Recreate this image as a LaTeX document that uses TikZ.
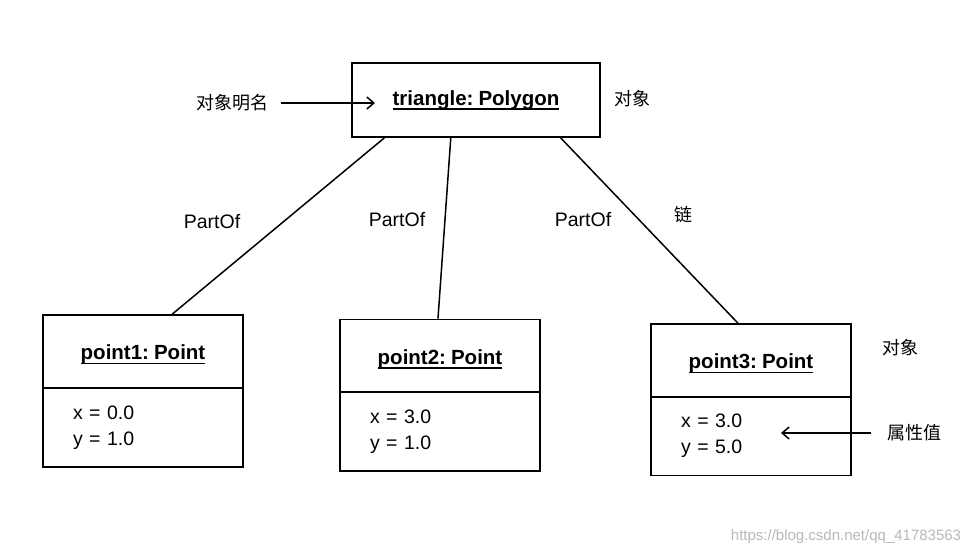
\documentclass[tikz,border=0pt]{standalone}
\usepackage{fontspec}
\setmainfont{Liberation Sans}[WordSpace=0.55]
\newfontfamily\cjk{Noto Sans CJK SC}
\usetikzlibrary{arrows.meta, calc}

\newcommand{\ulname}[1]{\setbox0\hbox{#1}\rlap{\rule[-4.5pt]{\wd0}{1.4pt}}\box0}

\begin{document}
\begin{tikzpicture}[
  x=1pt, y=-1pt,
  every node/.style={font=\fontsize{19.5}{26}\selectfont},
  objbox/.style={rectangle, draw, line width=1.8pt, minimum width=200pt, minimum height=73pt, font=\fontsize{20.5}{24}\selectfont\bfseries},
  attrbox/.style={rectangle, draw, line width=1.8pt, minimum width=200pt, minimum height=79pt, text width=140pt, inner xsep=30pt, align=left},
  note/.style={font=\cjk\fontsize{18}{20}\selectfont},
  link/.style={line width=1.5pt},
  pointer/.style={line width=1.5pt, -{Straight Barb[length=7pt, width=12pt]}},
]
\useasboundingbox (0,0) rectangle (977,556);

% Polygon object
\node[objbox, minimum width=248pt, minimum height=74pt] (tri) at (476,100) {\ulname{triangle: Polygon}};

% Point objects
\node[objbox, text height=21pt, text depth=4.5pt] (p1) at (143,351.5) {\ulname{point1: Point}};
\node[attrbox] (p1attr) at (143,427.5) {x = 0.0\\y = 1.0};

\node[objbox, text height=21pt, text depth=4.5pt] (p2) at (440,356) {\ulname{point2: Point}};
\node[attrbox] (p2attr) at (440,431.5) {x = 3.0\\y = 1.0};

\node[objbox, text height=21pt, text depth=4.5pt] (p3) at (751,360.5) {\ulname{point3: Point}};
\node[attrbox] (p3attr) at (751,436) {x = 3.0\\y = 5.0};

% Links
\draw[link] ($(tri.south west)!0.133!(tri.south east)$) -- ($(p1.north west)!0.645!(p1.north east)$);
\draw[link] ($(tri.south west)!0.399!(tri.south east)$) -- ($(p2.north west)!0.49!(p2.north east)$);
\draw[link] ($(tri.south west)!0.839!(tri.south east)$) -- ($(p3.north west)!0.435!(p3.north east)$);

\node (lbl1) at (212,222) {PartOf};
\node (lbl2) at (397,220) {PartOf};
\node (lbl3) at (583,220) {PartOf};

% Annotations
\node[note] (objname) at (232,103) {对象明名};
\coordinate (nametip) at (375,103);
\draw[pointer, shorten <=9pt] (objname.east) -- (nametip);

\node[note] (obj1) at (632,99) {对象};
\node[note] (chain) at (683,215) {链};
\node[note] (obj2) at (900,348) {对象};

\node[note] (attrval) at (914,433) {属性值};
\coordinate (attrtip) at (781,433);
\draw[pointer, shorten <=12pt] (attrval.west) -- (attrtip);

\node[font=\fontsize{15}{18}\selectfont, text=black!28] (mark) at (846,537) {https://blog.csdn.net/qq\_41783563};

\end{tikzpicture}
\end{document}
